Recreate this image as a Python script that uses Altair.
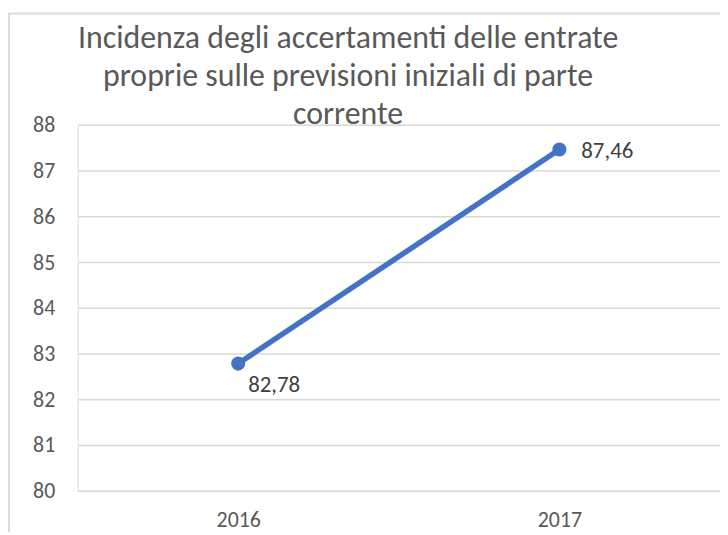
import altair as alt
import pandas as pd

years = ["2016", "2017"]
values = [82.78, 87.46]
labels = ["82,78", "87,46"]
title_lines = [
    "Incidenza degli accertamenti delle entrate",
    "proprie sulle previsioni iniziali di parte",
    "corrente",
]

df = pd.DataFrame({"anno": years, "valore": values, "etichetta": labels})

FONT = "Carlito, Calibri, Lato, sans-serif"
W, H = 646, 368
FS = 22
LFS = 23

base = alt.Chart(df)

frame = base.mark_rect(
    fill="transparent", stroke="#d9d9d9", strokeWidth=1.5, clip=False
).encode(
    x=alt.value(-69), x2=alt.value(W + 30), y=alt.value(-112), y2=alt.value(H + 100)
)

x_enc = alt.X(
    "anno:N",
    scale=alt.Scale(type="point", padding=0.5),
    axis=alt.Axis(
        title=None, labelAngle=0, domain=False, ticks=False,
        labelFontSize=FS, labelColor="#595959", labelFont=FONT, labelPadding=19,
    ),
)
y_enc = alt.Y(
    "valore:Q",
    scale=alt.Scale(domain=[80, 88], nice=False, zero=False),
    axis=alt.Axis(
        title=None, values=list(range(80, 89)), domain=False, ticks=False,
        labelFontSize=FS, labelColor="#595959", labelFont=FONT, labelPadding=23,
        gridColor="#d9d9d9", gridWidth=1.4,
    ),
)

line = base.mark_line(color="#4472C4", strokeWidth=5.5, strokeCap="round").encode(x=x_enc, y=y_enc)
pts = base.mark_circle(color="#4472C4", size=200, opacity=1).encode(x=x_enc, y=y_enc)

lab1 = base.transform_filter(alt.datum.anno == "2016").mark_text(
    align="left", baseline="middle", dx=10, dy=22, fontSize=LFS, font=FONT, color="#404040"
).encode(x=x_enc, y=y_enc, text="etichetta:N")
lab2 = base.transform_filter(alt.datum.anno == "2017").mark_text(
    align="left", baseline="middle", dx=22, dy=2, fontSize=LFS, font=FONT, color="#404040"
).encode(x=x_enc, y=y_enc, text="etichetta:N")

chart = alt.layer(frame, line, pts, lab1, lab2).properties(
    width=W, height=H,
    title=alt.TitleParams(
        text=title_lines, anchor="middle", frame="group", dx=-51, offset=-119,
        fontSize=32, font=FONT, fontWeight="normal", color="#595959", lineHeight=38,
    ),
    autosize=alt.AutoSizeParams(type="none"),
    padding={"left": 70, "top": 116, "right": 0, "bottom": 40},
).configure_view(stroke=None).configure(background="white")

chart.save("out.html", embed_options={"renderer": "svg", "actions": False})
